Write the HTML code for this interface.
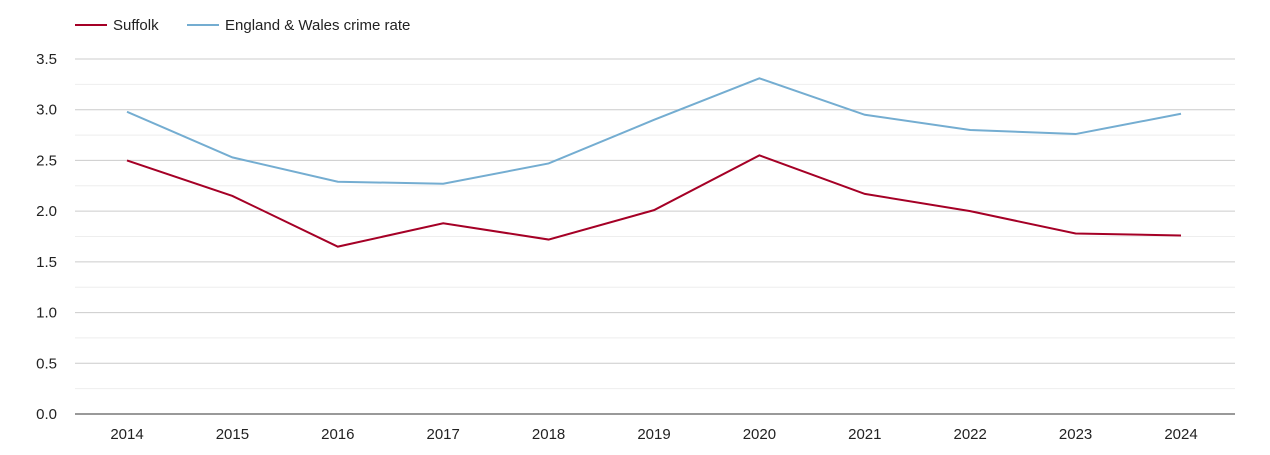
<!DOCTYPE html>
<html><head><meta charset="utf-8"><style>
body{margin:0;background:#fff;font-family:"Liberation Sans",sans-serif;}
svg text{font-family:"Liberation Sans",sans-serif;fill:#222;}
</style></head><body>
<svg id="chart" width="1270" height="450">
<g>
<g><line x1="75" y1="25" x2="107" y2="25" stroke="#a50026" stroke-width="2"/><text x="113" y="30" font-size="15">Suffolk</text></g>
<g><line x1="187" y1="25" x2="219" y2="25" stroke="#74add1" stroke-width="2"/><text x="225" y="30" font-size="15">England &amp; Wales crime rate</text></g>
</g>
<g id="grid"></g>
<g id="yaxis"></g>
<g id="xaxis"></g>
<g id="series"></g>
</svg>
<script>
const years=[2014,2015,2016,2017,2018,2019,2020,2021,2022,2023,2024];
const suffolk=[2.50,2.15,1.65,1.88,1.72,2.01,2.55,2.17,2.00,1.78,1.76];
const englandWales=[2.98,2.53,2.29,2.27,2.47,2.90,3.31,2.95,2.80,2.76,2.96];
const yTicks=["0.0","0.5","1.0","1.5","2.0","2.5","3.0","3.5"];
const NS="http://www.w3.org/2000/svg";
const x0=75,x1=1235,y0=414,yTop=59,yMax=3.5;
const xs=i=>127+i*(1181-127)/(years.length-1);
const ys=v=>y0-(v/yMax)*(y0-yTop);
function mk(tag,attrs,parent){const e=document.createElementNS(NS,tag);for(const k in attrs)e.setAttribute(k,attrs[k]);document.getElementById(parent).appendChild(e);return e;}
for(let v=0;v<=yMax+1e-9;v+=0.25){
  const major=Math.abs(v*2-Math.round(v*2))<1e-9;
  const l=mk('line',{x1:x0,x2:x1,y1:ys(v),y2:ys(v),stroke:v===0?'#333':(major?'#ccc':'#eee'),'stroke-width':1},'grid');
  
  
}
yTicks.forEach(t=>{
  const e=mk('text',{x:57,y:ys(parseFloat(t))+5,'text-anchor':'end','font-size':15},'yaxis');
  e.textContent=t;
  
  
});
years.forEach((y,i)=>{
  const e=mk('text',{x:xs(i),y:439,'text-anchor':'middle','font-size':15},'xaxis');
  e.textContent=y;
  
  
});
function line(data,color,name){
  const p=mk('polyline',{points:data.map((v,i)=>xs(i)+','+ys(v)).join(' '),fill:'none',stroke:color,'stroke-width':2},'series');
  
  
}
line(englandWales,'#74add1','england-wales-line');
line(suffolk,'#a50026','suffolk-line');
</script>
</body></html>
